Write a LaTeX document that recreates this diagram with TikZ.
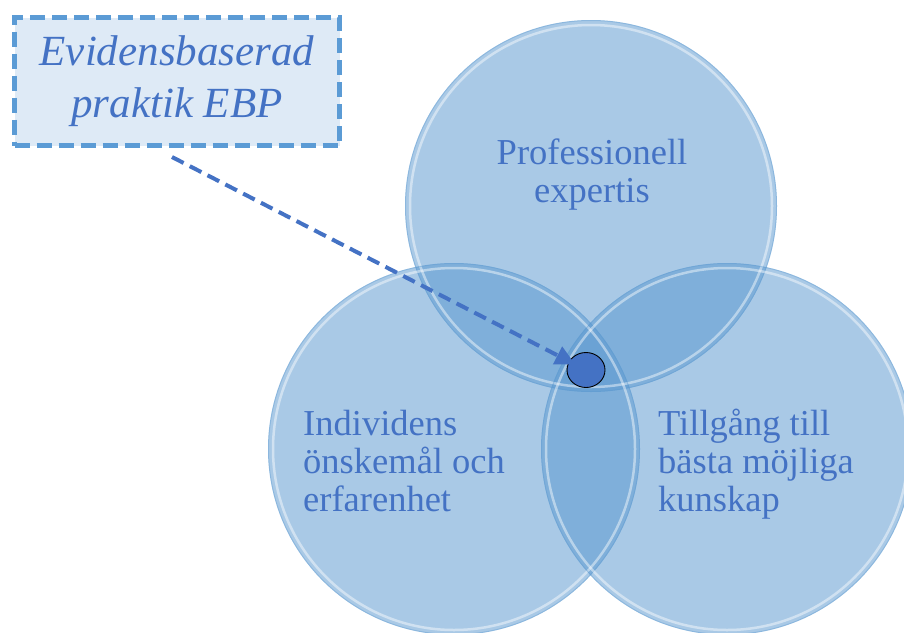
\documentclass[tikz,border=0pt]{standalone}
\usepackage{fontspec}
\setmainfont{Liberation Serif}
\usetikzlibrary{arrows.meta,shapes.geometric}
\definecolor{vennblue}{RGB}{87,150,206}
\definecolor{txtblue}{RGB}{68,114,196}
\definecolor{boxedge}{RGB}{91,155,213}
\definecolor{boxfill}{RGB}{222,234,246}
\tikzset{
  venn/.style={circle, inner sep=0pt, minimum size=372pt, fill=vennblue, fill opacity=0.51, draw=none},
  rim/.style={draw=white, draw opacity=0.45, line width=2.5pt},
  rimout/.style={draw=vennblue, draw opacity=0.35, line width=1pt},
  vtext/.style={text=txtblue, font=\fontsize{36.5}{38}\selectfont, align=left, inner sep=0pt},
  ebpbox/.style={draw=boxedge, line width=5pt, dash pattern=on 15pt off 7pt, fill=boxfill,
    minimum width=325pt, minimum height=128pt, inner sep=0pt, text=txtblue,
    font=\fontsize{43}{52}\selectfont\itshape, align=center},
  dotstyle/.style={ellipse, fill=txtblue, draw=black, line width=0.9pt, minimum width=38pt, minimum height=35pt, inner sep=0pt},
  ptr/.style={draw=txtblue, line width=4pt, dash pattern=on 13pt off 7pt, -{Triangle[length=20pt,width=19pt]}}
}
\begin{document}
\begin{tikzpicture}[x=1pt,y=-1pt]
\useasboundingbox (0,0) rectangle (904,632);
\clip (0,0) rectangle (904,632);
\node[venn] (ctop) at (591,206) {};
\node[venn] (cleft) at (454,449) {};
\node[venn] (cright) at (727,449) {};
\foreach \c in {ctop,cleft,cright}{
  \draw[rim] (\c.center) circle[radius=181pt];
  \draw[rimout] (\c.center) circle[radius=185.5pt];
}
\node[vtext, align=center, anchor=base] (tprof) at (592,202) {Professionell\\expertis};
\node[vtext, anchor=base west] (tind) at (303,511) {Individens\\önskemål och\\erfarenhet};
\node[vtext, anchor=base west] (ttill) at (658,511) {Tillgång till\\bästa möjliga\\kunskap};
\node[ebpbox] (box) at (177,81.5) {Evidensbaserad\\praktik EBP};
\node[dotstyle] (dot) at (586,370) {};
\coordinate (astart) at (172,157);
\draw[ptr, shorten >=12pt] (astart) -- (dot.center);
\end{tikzpicture}
\end{document}
